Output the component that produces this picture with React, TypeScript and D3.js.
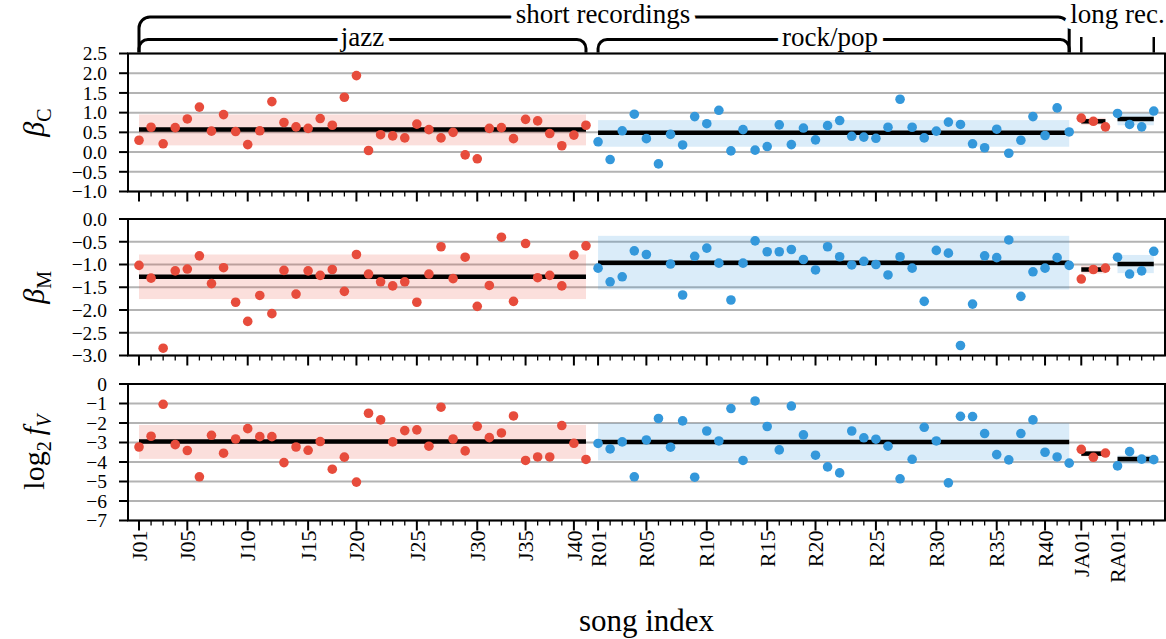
import React from 'react';
import * as d3 from 'd3';

// ---------- DATA ----------
// song categories (x axis), in plotted order
const songIds = [
  'J01','J02','J03','J04','J05','J06','J07','J08','J09','J10','J11','J12','J13','J14','J15','J16','J17','J18',
  'J20','J21','J22','J23','J24','J25','J26','J27','J28','J29','J30','J31','J32','J33','J35','J36','J37','J38','J40','J41',
  'R01','R02','R03','R04','R05','R06','R07','R08','R09','R10','R11','R12','R13','R14','R15','R16','R17','R18',
  'R20','R21','R22','R23','R24','R25','R26','R27','R28','R29','R30','R31','R32','R33','R34','R35','R36','R37','R38',
  'R40','R41','R42',
  'JA01','JA02','JA03',
  'RA01','RA02','RA03','RA04',
];
const tickLabels = ['J01','J05','J10','J15','J20','J25','J30','J35','J40','R01','R05','R10','R15','R20','R25','R30','R35','R40','JA01','RA01'];

// groups: jazz, rock/pop, long jazz, long rock
const groupNames = ['jazz', 'rock/pop', 'JA', 'RA'];
const groupStart = [0, 38, 78, 81];
const groupEnd = [37, 77, 80, 84];
const groupColor = ['#e74c3c', '#3498db', '#e74c3c', '#3498db'];

// beta_C
const betaC = [
  0.30,0.63,0.21,0.62,0.84,1.14,0.53,0.95,0.52,0.19,0.54,1.28,0.75,0.64,0.60,0.85,0.68,1.39,1.94,0.04,
  0.44,0.41,0.36,0.71,0.57,0.36,0.50,-0.07,-0.17,0.60,0.62,0.34,0.83,0.79,0.47,0.16,0.43,0.68,
  0.26,-0.19,0.54,0.96,0.34,-0.30,0.45,0.18,0.90,0.72,1.06,0.03,0.57,0.05,0.14,0.69,0.19,0.61,0.31,0.67,
  0.80,0.40,0.38,0.35,0.63,1.34,0.63,0.36,0.53,0.76,0.70,0.21,0.11,0.58,-0.03,0.30,0.90,0.42,1.12,0.51,
  0.86,0.78,0.64,
  0.98,0.70,0.64,1.04,
];
const betaCMean = [0.575, 0.49, 0.78, 0.84];
const betaCLo = [0.17, 0.135, 0.69, 0.68];
const betaCHi = [0.955, 0.81, 0.87, 0.98];

// beta_M
const betaM = [
  -1.02,-1.30,-2.84,-1.14,-1.10,-0.81,-1.42,-1.07,-1.83,-2.25,-1.68,-2.08,-1.13,-1.65,-1.14,-1.24,-1.11,-1.59,-0.78,-1.21,
  -1.38,-1.47,-1.38,-1.83,-1.21,-0.61,-1.31,-0.84,-1.92,-1.46,-0.40,-1.81,-0.54,-1.29,-1.24,-1.47,-0.79,-0.59,
  -1.08,-1.38,-1.27,-0.70,-0.78,null,-0.99,-1.67,-0.82,-0.64,-0.97,-1.78,-0.97,-0.48,-0.72,-0.72,-0.67,-0.89,-1.12,-0.61,
  -0.83,-1.01,-0.93,-1.00,-1.23,-0.83,-1.08,-1.81,-0.69,-0.75,-2.78,-1.87,-0.81,-0.85,-0.46,-1.70,-1.16,-1.08,-0.85,-1.02,
  -1.32,-1.11,-1.08,
  -0.84,-1.21,-1.14,-0.71,
];
const betaMMean = [-1.27, -0.96, -1.11, -0.99];
const betaMLo = [-1.76, -1.55, -1.20, -1.19];
const betaMHi = [-0.78, -0.37, -1.02, -0.79];

// log2 f_V
const log2fV = [
  -3.23,-2.68,-1.04,-3.11,-3.41,-4.76,-2.63,-3.55,-2.82,-2.29,-2.70,-2.70,-4.03,-3.23,-3.40,-2.95,-4.37,-3.75,-5.03,-1.50,
  -1.84,-2.97,-2.39,-2.35,-3.19,-1.19,-2.82,-3.43,-2.17,-2.75,-2.51,-1.64,-3.92,-3.74,-3.74,-2.13,-3.04,-3.87,
  -3.05,-3.33,-2.97,-4.76,-2.87,-1.77,-3.24,-1.89,-4.78,-2.41,-2.92,-1.26,-3.92,-0.87,-2.18,-3.38,-1.13,-2.61,-3.65,-4.25,
  -4.56,-2.41,-2.76,-2.83,-3.19,-4.86,-3.86,-2.22,-2.92,-5.07,-1.66,-1.67,-2.54,-3.62,-3.89,-2.54,-1.84,-3.50,-3.74,-4.06,
  -3.35,-3.76,-3.54,
  -4.20,-3.47,-3.85,-3.88,
];
const log2fVMean = [-2.95, -2.97, -3.57, -3.85];
const log2fVLo = [-3.84, -3.92, -3.72, -4.10];
const log2fVHi = [-2.10, -2.01, -3.42, -3.66];

const betaCTicks = [-1, -0.5, 0, 0.5, 1, 1.5, 2, 2.5];
const betaMTicks = [-3, -2.5, -2, -1.5, -1, -0.5, 0];
const log2fVTicks = [-7, -6, -5, -4, -3, -2, -1, 0];

// ---------- LAYOUT ----------
const W = 1166, H = 639;
const X0 = 128, X1 = 1165;
const FONT = '"Liberation Serif", "DejaVu Serif", serif';
const GRID = '#b3b3b3';

const x = d3.scaleLinear().domain([-0.91, 84.93]).range([X0, X1]);

const minusFmt = (dec: number) => (v: number) => {
  const s = Math.abs(v).toFixed(dec);
  return (v < -1e-9 ? '\u2212' : '') + s;
};

const panels = [
  { values: betaC, mean: betaCMean, lo: betaCLo, hi: betaCHi, domain: [-1, 2.5], ticks: betaCTicks, fmt: minusFmt(1), top: 53.5, bottom: 191.5, label: 'C' },
  { values: betaM, mean: betaMMean, lo: betaMLo, hi: betaMHi, domain: [-3, 0], ticks: betaMTicks, fmt: minusFmt(1), top: 219, bottom: 355.5, label: 'M' },
  { values: log2fV, mean: log2fVMean, lo: log2fVLo, hi: log2fVHi, domain: [-7, 0], ticks: log2fVTicks, fmt: minusFmt(0), top: 384, bottom: 520.5, label: 'V' },
];

const groupOf = (i: number) => groupStart.findIndex((s, g) => i >= s && i <= groupEnd[g]);

function YLabel({ p }: { p: any }) {
  const cy = (p.top + p.bottom) / 2;
  const common = { fontFamily: FONT, fontSize: 30, textAnchor: 'middle' as const };
  if (p.label === 'V') {
    return (
      <text transform={`translate(44,${cy}) rotate(-90)`} {...common}>
        <tspan>log</tspan>
        <tspan fontSize={20} dy={7}>2</tspan>
        <tspan dy={-7} dx={6} fontStyle="italic">f</tspan>
        <tspan fontSize={20} dy={7} fontStyle="italic">V</tspan>
      </text>
    );
  }
  return (
    <text transform={`translate(44,${cy}) rotate(-90)`} {...common}>
      <tspan fontStyle="italic">β</tspan>
      <tspan fontSize={20} dy={7}>{p.label}</tspan>
    </text>
  );
}

function Panel({ p, showLabels }: { p: any; showLabels: boolean }) {
  const y = d3.scaleLinear().domain(p.domain).range([p.bottom, p.top]);
  return (
    <g>
      {p.ticks.map((t: number) => (
        <line key={'g' + t} x1={X0} x2={X1} y1={y(t)} y2={y(t)} stroke={GRID} strokeWidth={2} />
      ))}
      {groupNames.map((g, gi) => (
        <rect key={'b' + g} x={x(groupStart[gi])} width={x(groupEnd[gi]) - x(groupStart[gi])}
          y={y(p.hi[gi])} height={y(p.lo[gi]) - y(p.hi[gi])} fill={groupColor[gi]} fillOpacity={0.18} />
      ))}
      {groupNames.map((g, gi) => (
        <line key={'m' + g} x1={x(groupStart[gi])} x2={x(groupEnd[gi])} y1={y(p.mean[gi])} y2={y(p.mean[gi])}
          stroke="#000" strokeWidth={4.5} />
      ))}
      {p.values.map((v: number | null, i: number) =>
        v === null ? null : (
          <circle key={'c' + i} cx={x(i)} cy={y(v)} r={4.8} fill={groupColor[groupOf(i)]} />
        )
      )}
      <rect x={X0} y={p.top} width={X1 - X0} height={p.bottom - p.top} fill="none" stroke="#000" strokeWidth={2} />
      {p.ticks.map((t: number) => (
        <g key={'yt' + t}>
          <line x1={X0 - 9} x2={X0} y1={y(t)} y2={y(t)} stroke="#000" strokeWidth={2} />
          <text x={X0 - 21} y={y(t)} dy="0.35em" textAnchor="end" fontFamily={FONT} fontSize={19.5}>{p.fmt(t)}</text>
        </g>
      ))}
      {songIds.map((s, i) => {
        const major = tickLabels.includes(s);
        return (
          <line key={'xt' + s} x1={x(i)} x2={x(i)} y1={p.bottom} y2={p.bottom + (major ? 10 : 5)} stroke="#000" strokeWidth={major ? 2 : 1.3} />
        );
      })}
      {showLabels && songIds.map((s, i) =>
        tickLabels.includes(s) ? (
          <text key={'xl' + s} transform={`translate(${x(i)},${p.bottom + 10}) rotate(-90)`} textAnchor="end" dy="0.35em"
            fontFamily={FONT} fontSize={22}>{s}</text>
        ) : null
      )}
      <YLabel p={p} />
    </g>
  );
}

function bracketPath(x1: number, x2: number, yh: number, yb: number, r: number) {
  return `M${x1},${yb} L${x1},${yh + r} A${r},${r} 0 0 1 ${x1 + r},${yh} L${x2 - r},${yh} A${r},${r} 0 0 1 ${x2},${yh + r} L${x2},${yb}`;
}

function Brackets() {
  const yb = panels[0].top;
  const outerY = 17, innerY = 39.5;
  const jx1 = x(groupStart[0]), jx2 = x(groupEnd[0]);
  const rx1 = x(groupStart[1]), rx2 = x(groupEnd[1]);
  const lx1 = x(groupStart[2]), lx2 = x(groupEnd[3]);
  const textProps = {
    fontFamily: FONT, fontSize: 27, textAnchor: 'middle' as const,
    stroke: '#fff', strokeWidth: 12, paintOrder: 'stroke', strokeLinejoin: 'round' as const,
  };
  return (
    <g>
      <path d={bracketPath(jx1, rx2, outerY, yb, 11)} fill="none" stroke="#000" strokeWidth={3} />
      <path d={bracketPath(jx1, jx2, innerY, yb, 9)} fill="none" stroke="#000" strokeWidth={3} />
      <path d={bracketPath(rx1, rx2, innerY, yb, 9)} fill="none" stroke="#000" strokeWidth={3} />
      <line x1={lx1} x2={lx1} y1={37} y2={yb} stroke="#000" strokeWidth={2.5} />
      <line x1={lx2} x2={lx2} y1={37} y2={yb} stroke="#000" strokeWidth={2.5} />
      <text x={603} y={outerY + 6} {...textProps}>short recordings</text>
      <text x={(jx1 + jx2) / 2} y={innerY + 6} {...textProps}>jazz</text>
      <text x={830} y={innerY + 6} {...textProps}>rock/pop</text>
      <text x={(lx1 + lx2) / 2} y={outerY + 6} {...textProps}>long rec.</text>
    </g>
  );
}

export default function App() {
  return (
    <svg width={W} height={H} viewBox={`0 0 ${W} ${H}`} style={{ position: 'absolute', left: 0, top: 0, background: '#fff' }}>
      <rect width={W} height={H} fill="#fff" />
      <Brackets />
      {panels.map((p, k) => (
        <Panel key={k} p={p} showLabels={k === panels.length - 1} />
      ))}
      <text x={(X0 + X1) / 2} y={631} textAnchor="middle" fontFamily={FONT} fontSize={31}>song index</text>
    </svg>
  );
}
